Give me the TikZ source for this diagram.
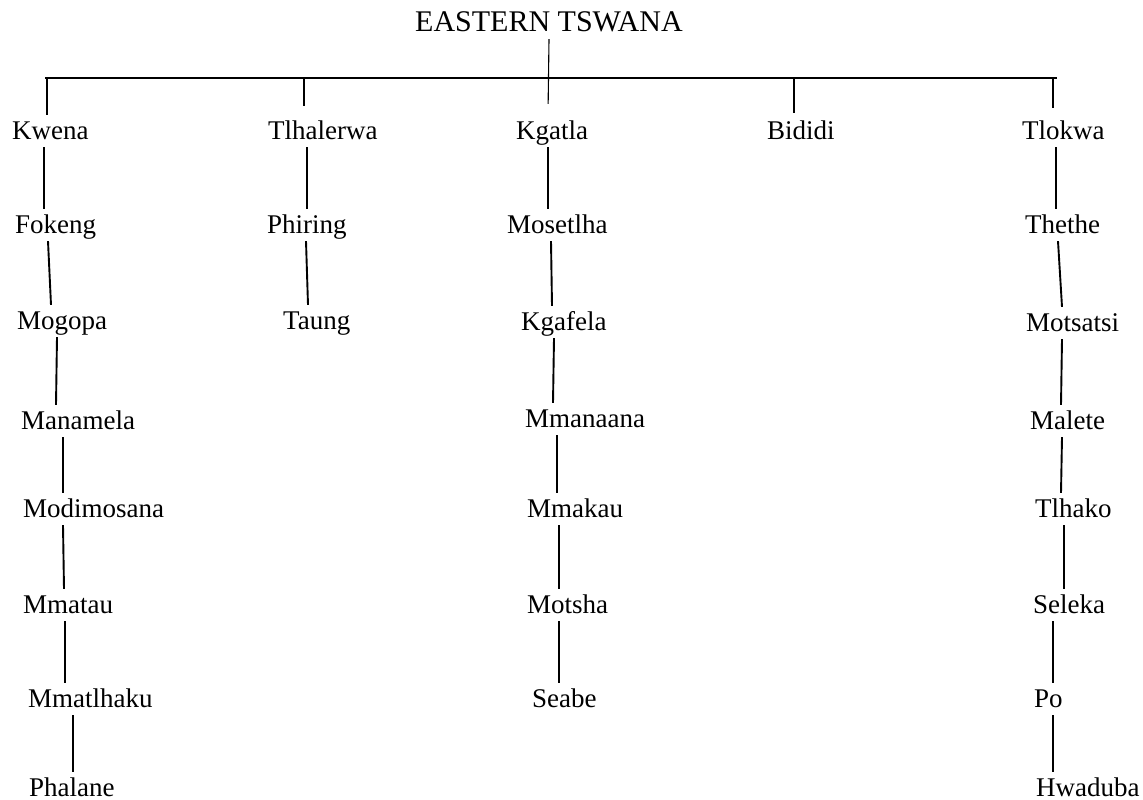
\documentclass[tikz,border=0pt]{standalone}
\usepackage{fontspec}
\setmainfont{Liberation Serif}
\tikzset{%
   head/.style={anchor=base west, inner sep=0pt, text depth=7pt, font=\fontsize{30}{34}\selectfont},
   tribe/.style={anchor=base west, inner sep=0pt, text height=24pt, text depth=8pt, font=\fontsize{27}{30}\selectfont},
   link/.style={line width=1.9pt},
   stem/.style={line width=1.1pt},
}

\begin{document}
\begin{tikzpicture}[x=1pt, y=-1pt]
   \useasboundingbox (0,0) rectangle (1143,800);
   \node[head] (title) at (415,32) {EASTERN TSWANA};
   \coordinate (barL) at (45,78);
   \coordinate (barR) at (1057,78);
   % Kwena
   \node[tribe] (kwena) at (12,139) {Kwena};
   \node[tribe] (fokeng) at (15,233) {Fokeng};
   \node[tribe] (mogopa) at (17,329) {Mogopa};
   \node[tribe] (manamela) at (21,429) {Manamela};
   \node[tribe] (modimosana) at (23,517) {Modimosana};
   \node[tribe] (mmatau) at (23,613) {Mmatau};
   \node[tribe] (mmatlhaku) at (28,707) {Mmatlhaku};
   \node[tribe] (phalane) at (29,796) {Phalane};
   % Tlhalerwa
   \node[tribe] (tlhalerwa) at (268,139) {Tlhalerwa};
   \node[tribe] (phiring) at (267,233) {Phiring};
   \node[tribe] (taung) at (283,329) {Taung};
   % Kgatla
   \node[tribe] (kgatla) at (516,139) {Kgatla};
   \node[tribe] (mosetlha) at (507,233) {Mosetlha};
   \node[tribe] (kgafela) at (521,330) {Kgafela};
   \node[tribe] (mmanaana) at (525,427) {Mmanaana};
   \node[tribe] (mmakau) at (527,517) {Mmakau};
   \node[tribe] (motsha) at (527,613) {Motsha};
   \node[tribe] (seabe) at (532,707) {Seabe};
   % Bididi
   \node[tribe] (bididi) at (767,139) {Bididi};
   % Tlokwa
   \node[tribe] (tlokwa) at (1022,139) {Tlokwa};
   \node[tribe] (thethe) at (1025,233) {Thethe};
   \node[tribe] (motsatsi) at (1026,331) {Motsatsi};
   \node[tribe] (malete) at (1030,429) {Malete};
   \node[tribe] (tlhako) at (1035,517) {Tlhako};
   \node[tribe] (seleka) at (1033,613) {Seleka};
   \node[tribe] (po) at (1034,707) {Po};
   \node[tribe] (hwaduba) at (1036,796) {Hwaduba};

   % bar and drops
   \draw[link] (barL) -- (barR);
   \draw[stem, shorten >=11pt] ([xshift=134pt]title.south west) -- ([xshift=32pt]kgatla.north west);
   \draw[link] ([xshift=35pt]kwena.north west) |- (barL);
   \draw[link, shorten <=9pt] ([xshift=36pt]tlhalerwa.north west) |- (barL);
   \draw[link, shorten <=2pt] ([xshift=27pt]bididi.north west) |- (barR);
   \draw[link, shorten <=7pt] ([xshift=31pt]tlokwa.north west) |- (barR);

   % Kwena line
   \draw[link] ([xshift=32pt]kwena.south west) -- ([xshift=29pt]fokeng.north west);
   \draw[link] ([xshift=33pt]fokeng.south west) -- ([xshift=34pt]mogopa.north west);
   \draw[link] ([xshift=40pt]mogopa.south west) -- ([xshift=35pt]manamela.north west);
   \draw[link] ([xshift=42pt]manamela.south west) -- ([xshift=40pt]modimosana.north west);
   \draw[link] ([xshift=40pt]modimosana.south west) -- ([xshift=41pt]mmatau.north west);
   \draw[link] ([xshift=42pt]mmatau.south west) -- ([xshift=37pt]mmatlhaku.north west);
   \draw[link] ([xshift=45pt]mmatlhaku.south west) -- ([xshift=44pt]phalane.north west);
   % Tlhalerwa line
   \draw[link] ([xshift=39pt]tlhalerwa.south west) -- ([xshift=40pt]phiring.north west);
   \draw[link] ([xshift=39pt]phiring.south west) -- ([xshift=25pt]taung.north west);
   % Kgatla line
   \draw[link] ([xshift=32pt]kgatla.south west) -- ([xshift=41pt]mosetlha.north west);
   \draw[link] ([xshift=44pt]mosetlha.south west) -- ([xshift=31pt]kgafela.north west);
   \draw[link] ([xshift=33pt]kgafela.south west) -- ([xshift=28pt]mmanaana.north west);
   \draw[link] ([xshift=32pt]mmanaana.south west) -- ([xshift=30pt]mmakau.north west);
   \draw[link] ([xshift=32pt]mmakau.south west) -- ([xshift=32pt]motsha.north west);
   \draw[link] ([xshift=32pt]motsha.south west) -- ([xshift=27pt]seabe.north west);
   % Tlokwa line
   \draw[link] ([xshift=34pt]tlokwa.south west) -- ([xshift=31pt]thethe.north west);
   \draw[link] ([xshift=33pt]thethe.south west) -- ([xshift=36pt]motsatsi.north west);
   \draw[link] ([xshift=36pt]motsatsi.south west) -- ([xshift=31pt]malete.north west);
   \draw[link] ([xshift=32pt]malete.south west) -- ([xshift=26pt]tlhako.north west);
   \draw[link] ([xshift=29pt]tlhako.south west) -- ([xshift=31pt]seleka.north west);
   \draw[link] ([xshift=20pt]seleka.south west) -- ([xshift=19pt]po.north west);
   \draw[link] ([xshift=19pt]po.south west) -- ([xshift=17pt]hwaduba.north west);
\end{tikzpicture}
\end{document}
